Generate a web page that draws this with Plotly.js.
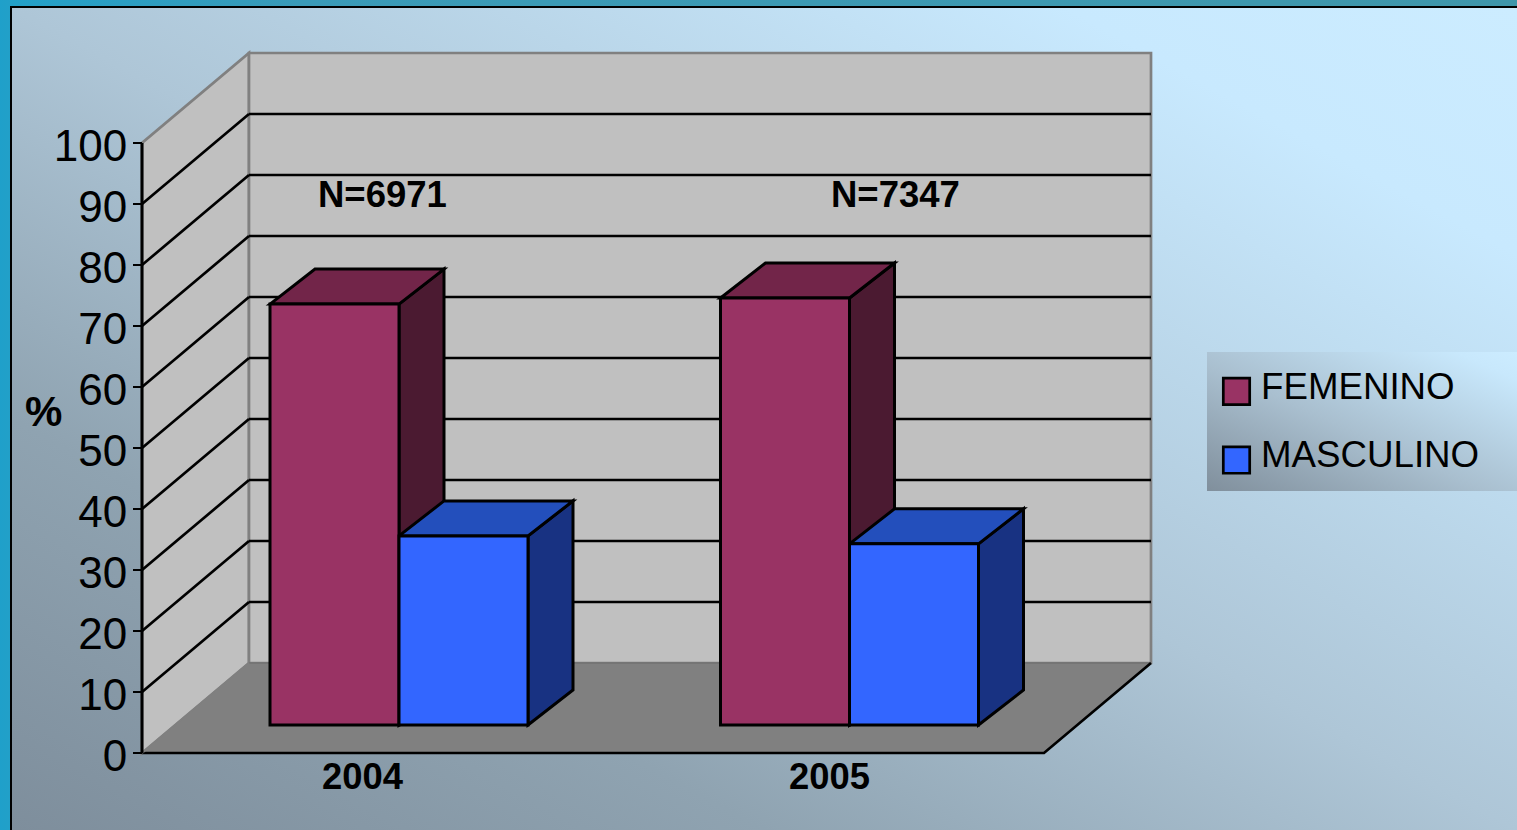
<!DOCTYPE html>
<html><head><meta charset="utf-8">
<script src="https://cdn.plot.ly/plotly-3.0.1.min.js"></script>
<style>
html,body{margin:0;padding:0;width:1517px;height:830px;overflow:hidden;background:linear-gradient(to right,#1fa0ca 0,#22a0c8 12px,#3a9bb8 300px,#3f96aa 1517px);}
#panel{position:absolute;left:10px;top:6px;width:1507px;height:824px;box-sizing:border-box;border-left:2px solid #000;border-top:2px solid #000;
background:linear-gradient(to top right,#7e8e9c 0%,#8fa3b1 25%,#aec6d7 50%,#c8e9fe 85%,#ccecff 100%);}
#legbox{position:absolute;left:1207px;top:352px;width:310px;height:139px;
background:linear-gradient(to top right,#808f9c 0%,#a9bfcf 45%,#c8e8fc 90%,#ccecff 100%);}
#chart{position:absolute;left:0;top:0;width:1517px;height:830px;}
</style></head>
<body><div id="panel"></div><div id="legbox"></div><div id="chart"></div>
<script>
const years=['2004','2005'];
const femenino=[69,70];
const masculino=[31,29.7];
const notes=['N=6971','N=7347'];
const yTicks=[0,10,20,30,40,50,60,70,80,90,100];
const seriesNames=['FEMENINO','MASCULINO'];
const W=1517,H=830;
const pxX=450.5, pxY=6.1, x0=142, y0=753;
const ux=p=>p/pxX, uy=p=>p/pxY;
const wallDX=ux(107), wallDY=uy(90), floorEnd=ux(902);
const barW=ux(129), shiftX=ux(31.75), baseY=uy(28), depX=ux(45), depY=uy(35);
const centers=years.map((_,i)=>i+0.5+shiftX);
const poly=(pts)=>'M'+pts.map(p=>p[0]+','+p[1]).join(' L')+' Z';
const shapes=[];
function add(pts,fill,color,width,closed=true){
  shapes.push({type:'path',xref:'x',yref:'y',layer:'below',path:closed?poly(pts):'M'+pts.map(p=>p[0]+','+p[1]).join(' L'),
    fillcolor:fill||'rgba(0,0,0,0)',line:{color:color||'rgba(0,0,0,0)',width:width||0}});
}
const yMax=yTicks[yTicks.length-1];
const backR=floorEnd+wallDX;
// walls and floor
add([[0,0],[wallDX,wallDY],[wallDX,yMax+wallDY],[0,yMax]],'#c0c0c0','#808080',2.7);
add([[wallDX,wallDY],[backR,wallDY],[backR,yMax+wallDY],[wallDX,yMax+wallDY]],'#c0c0c0','#808080',2.7);
add([[0,0],[wallDX,wallDY],[backR,wallDY],[floorEnd,0]],'#808080','#6a6a6a',1);
add([[0,0],[floorEnd,0],[backR,wallDY]],null,'#000',2.7,false);
add([[0,0],[wallDX,wallDY]],null,'#808080',2,false);
add([[0,0],[0,yMax]],null,'#000',3,false);
// gridlines
yTicks.slice(1,-1).forEach(v=>{
  add([[0,v],[wallDX,v+wallDY]],null,'#000',2.7,false);
  add([[wallDX,v+wallDY],[backR,v+wallDY]],null,'#000',2.7,false);
});
// bar side and top faces
function box(xl,val,topCol,sideCol){
  const xr=xl+barW, t=baseY+val, b=baseY;
  add([[xr,b],[xr+depX,b+depY],[xr+depX,t+depY],[xr,t]],sideCol,'#000',3);
  add([[xl,t],[xl+depX,t+depY],[xr+depX,t+depY],[xr,t]],topCol,'#000',3);
}
centers.forEach((c,i)=>{
  box(c-barW,femenino[i],'#722549','#4b1a31');
  box(c,masculino[i],'#234fbc','#183282');
});
const noteX=[ux(382.5-x0),ux(895.5-x0)], noteY=[uy(753-194),uy(753-194)];
const annotations=notes.map((t,i)=>({x:noteX[i],y:noteY[i],xref:'x',yref:'y',text:t,showarrow:false,xanchor:'center',yanchor:'middle',
  font:{family:'Liberation Sans',size:36.5,color:'#000',weight:700}}));
annotations.push({x:ux(43.5-x0),y:uy(753-411),xref:'x',yref:'y',text:'%',showarrow:false,xanchor:'center',yanchor:'middle',
  font:{family:'Liberation Sans',size:42,color:'#000',weight:700}});
const traces=[
 {type:'bar',name:seriesNames[0],legendgroup:'f',x:centers.map(c=>c-barW/2),y:femenino,base:baseY,width:barW,marker:{color:'#993364',line:{color:'#000',width:3}},hoverinfo:'skip'},
 {type:'bar',name:seriesNames[1],legendgroup:'m',x:centers.map(c=>c+barW/2),y:masculino,base:baseY,width:barW,marker:{color:'#3366ff',line:{color:'#000',width:3}},hoverinfo:'skip'}
];
const layout={
 width:W,height:H,margin:{l:0,r:0,t:0,b:0,pad:0},paper_bgcolor:'rgba(0,0,0,0)',plot_bgcolor:'rgba(0,0,0,0)',
 barmode:'overlay',shapes,annotations,
 font:{family:'Liberation Sans',color:'#000'},
 xaxis:{range:[-x0/pxX,(W-x0)/pxX],domain:[0,1],anchor:'free',position:(H-y0)/H,tickmode:'array',
   tickvals:[ux(362.5-x0),ux(829.5-x0)],ticktext:years,ticks:'',showgrid:false,zeroline:false,showline:false,
   tickfont:{family:'Liberation Sans',size:36.4,color:'#000',weight:700},ticklabelstandoff:-1},
 yaxis:{range:[-(H-y0)/pxY,y0/pxY],domain:[0,1],anchor:'free',position:x0/W,tickmode:'array',tickvals:yTicks,ticktext:yTicks.map(String),
   ticks:'outside',ticklen:9,tickwidth:2.5,tickcolor:'#000',showgrid:false,zeroline:false,showline:false,
   tickfont:{family:'Liberation Sans',size:44,color:'#000'},ticklabelshift:3,ticklabelstandoff:-3},
 showlegend:true,
 legend:{x:1221/W,xanchor:'left',y:1-354/H,yanchor:'top',bgcolor:'rgba(0,0,0,0)',borderwidth:0,tracegroupgap:18,
   itemwidth:30,font:{family:'Liberation Sans',size:36.7,color:'#000'},itemclick:false,itemdoubleclick:false}
};
Plotly.newPlot('chart',traces,layout,{displayModeBar:false,staticPlot:true}).then(gd=>{
  gd.querySelectorAll('.legendpoints path').forEach(p=>{
    p.setAttribute('transform','translate(15.5,7) scale(2.2)');
    p.setAttribute('vector-effect','non-scaling-stroke');
    p.style.strokeWidth='2.7px';
  });
});
</script></body></html>
